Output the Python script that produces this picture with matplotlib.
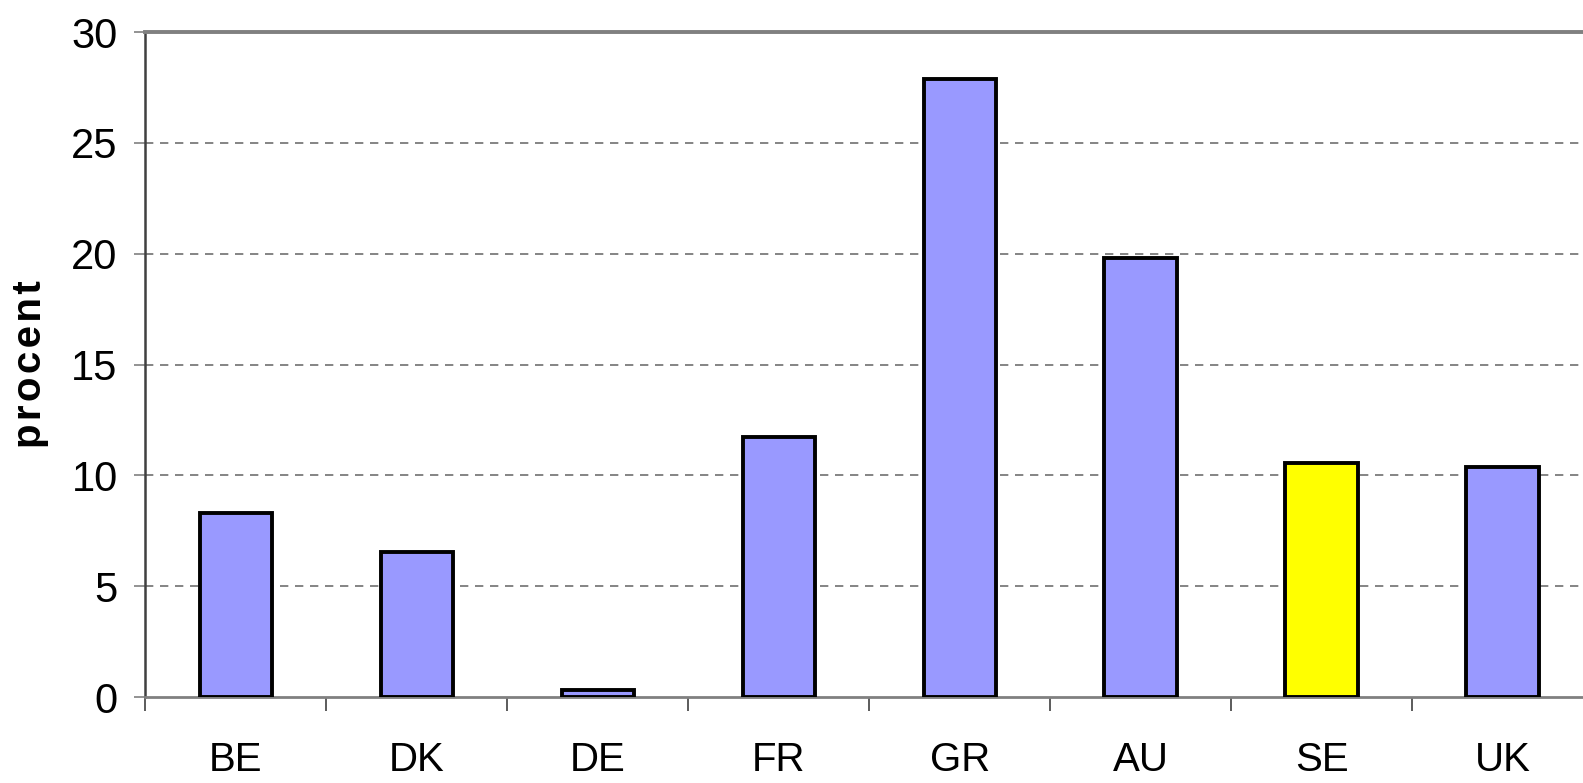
import matplotlib.pyplot as plt
import numpy as np

# data
countries = ["BE", "DK", "DE", "FR", "GR", "AU", "SE", "UK"]
values = [8.3, 6.55, 0.32, 11.75, 27.9, 19.8, 10.57, 10.38]
highlight = "SE"
y_ticks = [0, 5, 10, 15, 20, 25, 30]

plt.rcParams['font.family'] = ['Liberation Sans', 'DejaVu Sans']

fig = plt.figure(figsize=(15.83, 7.83), dpi=100)
ax = fig.add_axes([0.0919, 0.1098, 0.9144, 0.8493])

x = np.arange(len(countries))
colors = ["#FFFF00" if c == highlight else "#9999FF" for c in countries]
ax.bar(x, values, width=0.4, color=colors, edgecolor="black", linewidth=2.8, zorder=3)

ax.set_xlim(-0.5, len(countries) - 0.5)
ax.set_ylim(0, 30)

# y axis
ax.set_yticks(y_ticks)
ax.tick_params(axis="y", which="major", length=8, width=1.2, color="#808080",
               labelsize=30, pad=12)
for y in y_ticks[1:-1]:
    ax.axhline(y, color="#707070", linestyle=(0, (5, 4)), linewidth=1.2, zorder=1)

# x axis: labels centred, ticks at category boundaries
ax.set_xticks(x)
ax.set_xticklabels(countries)
ax.tick_params(axis="x", which="major", length=0, labelsize=29, pad=32)
ax.set_xticks(np.arange(-0.5, len(countries) + 0.5, 1), minor=True)
ax.tick_params(axis="x", which="minor", length=10, width=1.2, color="#404040", direction="out")

ax.spines["left"].set_color("#404040")
ax.spines["left"].set_linewidth(1.8)
ax.spines["bottom"].set_color("#808080")
ax.spines["bottom"].set_linewidth(2.0)
ax.spines["top"].set_color("#808080")
ax.spines["top"].set_linewidth(2.8)
ax.spines["right"].set_visible(False)

# slightly spaced letters like the original
ax.set_ylabel("\u200a".join("procent"), fontsize=29, fontweight="bold", labelpad=16)

fig.savefig("out.png", dpi=100)
